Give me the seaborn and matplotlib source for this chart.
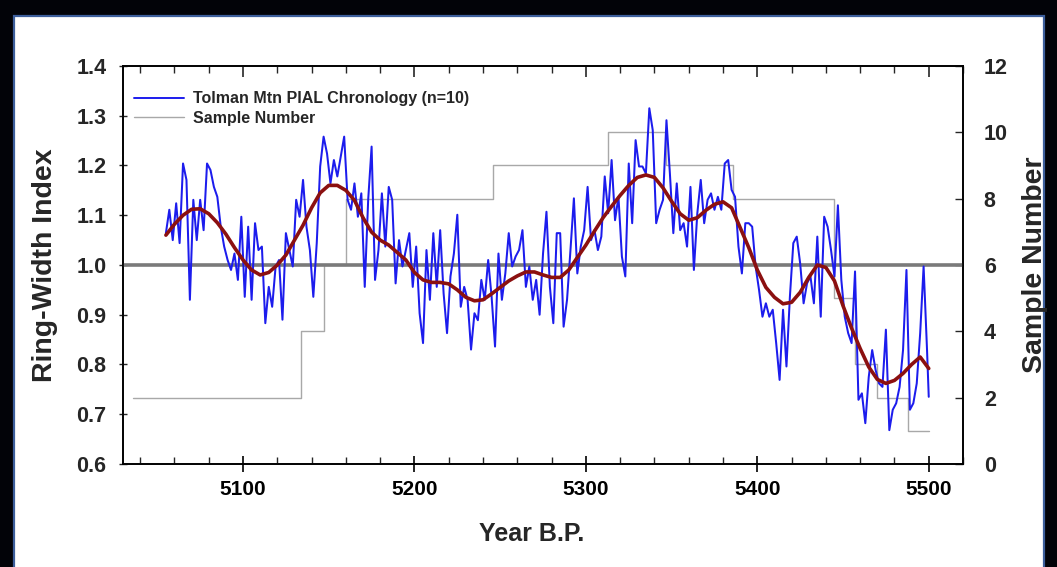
import matplotlib
matplotlib.use("Agg")
import matplotlib.pyplot as plt
from matplotlib.patches import Rectangle
from matplotlib.lines import Line2D
from matplotlib.ticker import MultipleLocator, FormatStrFormatter
import pandas as pd
import seaborn as sns

# ring-width index, every 2nd year
rw_years = list(range(5055, 5500, 2)) + [5500]
rw_index = [
    # 5055-5101
    1.064, 1.111, 1.050, 1.124, 1.044, 1.204, 1.171, 0.930, 1.131, 1.050, 1.131, 1.070,
    1.204, 1.191, 1.157, 1.137, 1.077, 1.037, 1.010, 0.990, 1.023, 0.970, 1.097, 0.936,
    # 5103-5165
    1.077, 0.930, 1.084, 1.030, 1.037, 0.883, 0.956, 0.916, 0.997, 1.010, 0.890, 1.064,
    1.030, 0.997, 1.131, 1.097, 1.171, 1.077, 1.030, 0.936, 1.044, 1.198, 1.258, 1.224,
    1.164, 1.211, 1.178, 1.218, 1.258, 1.131, 1.111, 1.164,
    # 5167-5231
    1.097, 1.144, 0.956, 1.131, 1.238, 0.970, 1.030, 1.144, 1.037, 1.157, 1.131, 0.963,
    1.050, 0.997, 1.030, 1.064, 0.956, 1.037, 0.903, 0.843, 1.030, 0.930, 1.064, 0.956,
    1.070, 0.943, 0.863, 0.977, 1.023, 1.101, 0.916, 0.956, 0.930,
    # 5233-5297
    0.830, 0.903, 0.889, 0.970, 0.930, 1.010, 0.936, 0.836, 1.023, 0.930, 0.983, 1.064,
    0.997, 1.017, 1.030, 1.070, 0.956, 0.997, 0.930, 0.970, 0.900, 1.023, 1.107, 0.956,
    0.883, 1.064, 1.064, 0.876, 0.930, 1.030, 1.134, 0.983, 1.037,
    # 5299-5363
    1.070, 1.157, 1.050, 1.070, 1.030, 1.057, 1.178, 1.104, 1.211, 1.090, 1.137, 1.017,
    0.977, 1.204, 1.084, 1.251, 1.198, 1.198, 1.184, 1.315, 1.271, 1.084, 1.111, 1.131,
    1.291, 1.184, 1.064, 1.164, 1.070, 1.084, 1.037, 1.157, 0.990,
    # 5365-5447
    1.104, 1.171, 1.084, 1.131, 1.144, 1.111, 1.137, 1.111, 1.204, 1.211, 1.151, 1.137,
    1.037, 0.983, 1.084, 1.084, 1.077, 0.997, 0.950, 0.896, 0.923, 0.896, 0.910, 0.843,
    0.769, 0.910, 0.796, 0.936, 1.044, 1.057, 1.003, 0.923, 0.963, 0.977, 0.923, 1.057,
    0.896, 1.097, 1.077, 1.030, 0.977, 1.120,
    # 5449-5499, 5500
    0.970, 0.896, 0.863, 0.843, 0.987, 0.729, 0.742, 0.682, 0.775, 0.829, 0.789, 0.762,
    0.755, 0.870, 0.668, 0.709, 0.722, 0.755, 0.829, 0.990, 0.709, 0.722, 0.762, 0.863,
    0.997, 0.829, 0.735,
]

# smoothed curve (dark red), every 5 years
spline_years = list(range(5055, 5501, 5))
spline_index = [
    1.060, 1.082, 1.100, 1.112, 1.113, 1.103, 1.085, 1.062, 1.035, 1.010,
    0.990, 0.980, 0.985, 1.000, 1.020, 1.050, 1.080, 1.115, 1.145, 1.160,
    1.160, 1.150, 1.130, 1.095, 1.066, 1.050, 1.040, 1.025, 1.010, 0.985,
    0.970, 0.965, 0.965, 0.962, 0.950, 0.935, 0.928, 0.930, 0.942, 0.955,
    0.968, 0.978, 0.986, 0.986, 0.980, 0.975, 0.975, 0.990, 1.015, 1.040,
    1.068, 1.095, 1.118, 1.140, 1.160, 1.176, 1.181, 1.176, 1.155, 1.128,
    1.103, 1.090, 1.095, 1.110, 1.122, 1.127, 1.115, 1.075, 1.035, 0.990,
    0.955, 0.935, 0.922, 0.925, 0.945, 0.975, 1.000, 0.995, 0.968, 0.918,
    0.873, 0.832, 0.795, 0.770, 0.762, 0.768, 0.782, 0.800, 0.815, 0.792,
]

# sample depth (steps)
sample_years = [5036, 5134, 5147, 5160, 5246, 5313, 5347, 5386, 5445, 5457, 5470, 5488, 5500]
sample_n = [2, 4, 6, 8, 9, 10, 9, 8, 5, 3, 2, 1, 1]

chron = pd.DataFrame({"year": rw_years, "rwi": rw_index})
smooth = pd.DataFrame({"year": spline_years, "rwi": spline_index})
depth = pd.DataFrame({"year": sample_years, "n": sample_n})

sns.set_theme(style="ticks")
plt.rcParams["font.family"] = ["Liberation Sans", "DejaVu Sans"]
plt.rcParams["font.weight"] = "bold"

fig = plt.figure(figsize=(10.57, 5.67), dpi=100)
fig.patch.set_facecolor("#020308")
fig.patches.append(Rectangle((0.0132, -0.02), 0.9745, 0.9918, transform=fig.transFigure,
                             facecolor="white", edgecolor="#3d5f9c", linewidth=1.6, zorder=-5))

ax = fig.add_axes([0.1164, 0.1817, 0.7947, 0.7019])
ax2 = ax.twinx()
ax.set_zorder(ax2.get_zorder() + 1)
ax.patch.set_visible(False)
ax2.patch.set_visible(False)

sns.lineplot(data=depth, x="year", y="n", ax=ax2, color="#a8a8a8", linewidth=1.0,
             drawstyle="steps-post")
ax.axhline(1.0, color="#7a7a7a", linewidth=2.6, zorder=1)
sns.lineplot(data=chron, x="year", y="rwi", ax=ax, color="#1c1ced", linewidth=1.45, zorder=2)
sns.lineplot(data=smooth, x="year", y="rwi", ax=ax, color="#8b1010", linewidth=2.6, zorder=3)

ax.set_xlim(5030, 5520)
ax.set_ylim(0.6, 1.4)
ax2.set_ylim(0, 12)

ax.xaxis.set_major_locator(MultipleLocator(100))
ax.xaxis.set_minor_locator(MultipleLocator(20))
ax.set_xticks([5100, 5200, 5300, 5400, 5500])
ax.yaxis.set_major_locator(MultipleLocator(0.1))
ax.yaxis.set_major_formatter(FormatStrFormatter("%.1f"))
ax2.yaxis.set_major_locator(MultipleLocator(2))

ax.tick_params(axis="x", which="major", direction="inout", length=11, width=1.2,
               labelsize=15, pad=6, colors="black")
ax.tick_params(axis="x", which="minor", direction="in", length=5, width=1.0)
ax.tick_params(axis="y", direction="inout", length=6, width=1.0, labelsize=15.5, pad=9)
ax2.tick_params(axis="y", direction="in", length=6, width=1.0, labelsize=15.5, pad=15)

top = ax.secondary_xaxis("top")
top.xaxis.set_major_locator(MultipleLocator(100))
top.xaxis.set_minor_locator(MultipleLocator(20))
top.tick_params(axis="x", which="major", direction="in", length=8, width=1.2, labeltop=False)
top.tick_params(axis="x", which="minor", direction="in", length=5, width=1.0)

for a in (ax, ax2):
    for s in a.spines.values():
        s.set_visible(True)
        s.set_color("black")
        s.set_linewidth(1.2)
top.spines["top"].set_linewidth(1.2)

ax.set_xlabel("Year B.P.", fontsize=18, fontweight="bold")
ax.xaxis.set_label_coords(0.486, -0.145)
ax.set_ylabel("Ring-Width Index", fontsize=20.5, fontweight="bold", labelpad=13)
ax2.set_ylabel("Sample Number", fontsize=20.5, fontweight="bold", labelpad=10)

handles = [Line2D([], [], color="#1c1ced", linewidth=1.4),
           Line2D([], [], color="#a8a8a8", linewidth=1.0)]
ax.legend(handles, ["Tolman Mtn PIAL Chronology (n=10)", "Sample Number"],
          loc="upper left", bbox_to_anchor=(0.0, 0.965), frameon=False,
          fontsize=11.5, handlelength=3.1, labelspacing=0.3, handletextpad=0.55,
          borderaxespad=0.3)

fig.savefig("out.png", dpi=100, facecolor=fig.get_facecolor())
